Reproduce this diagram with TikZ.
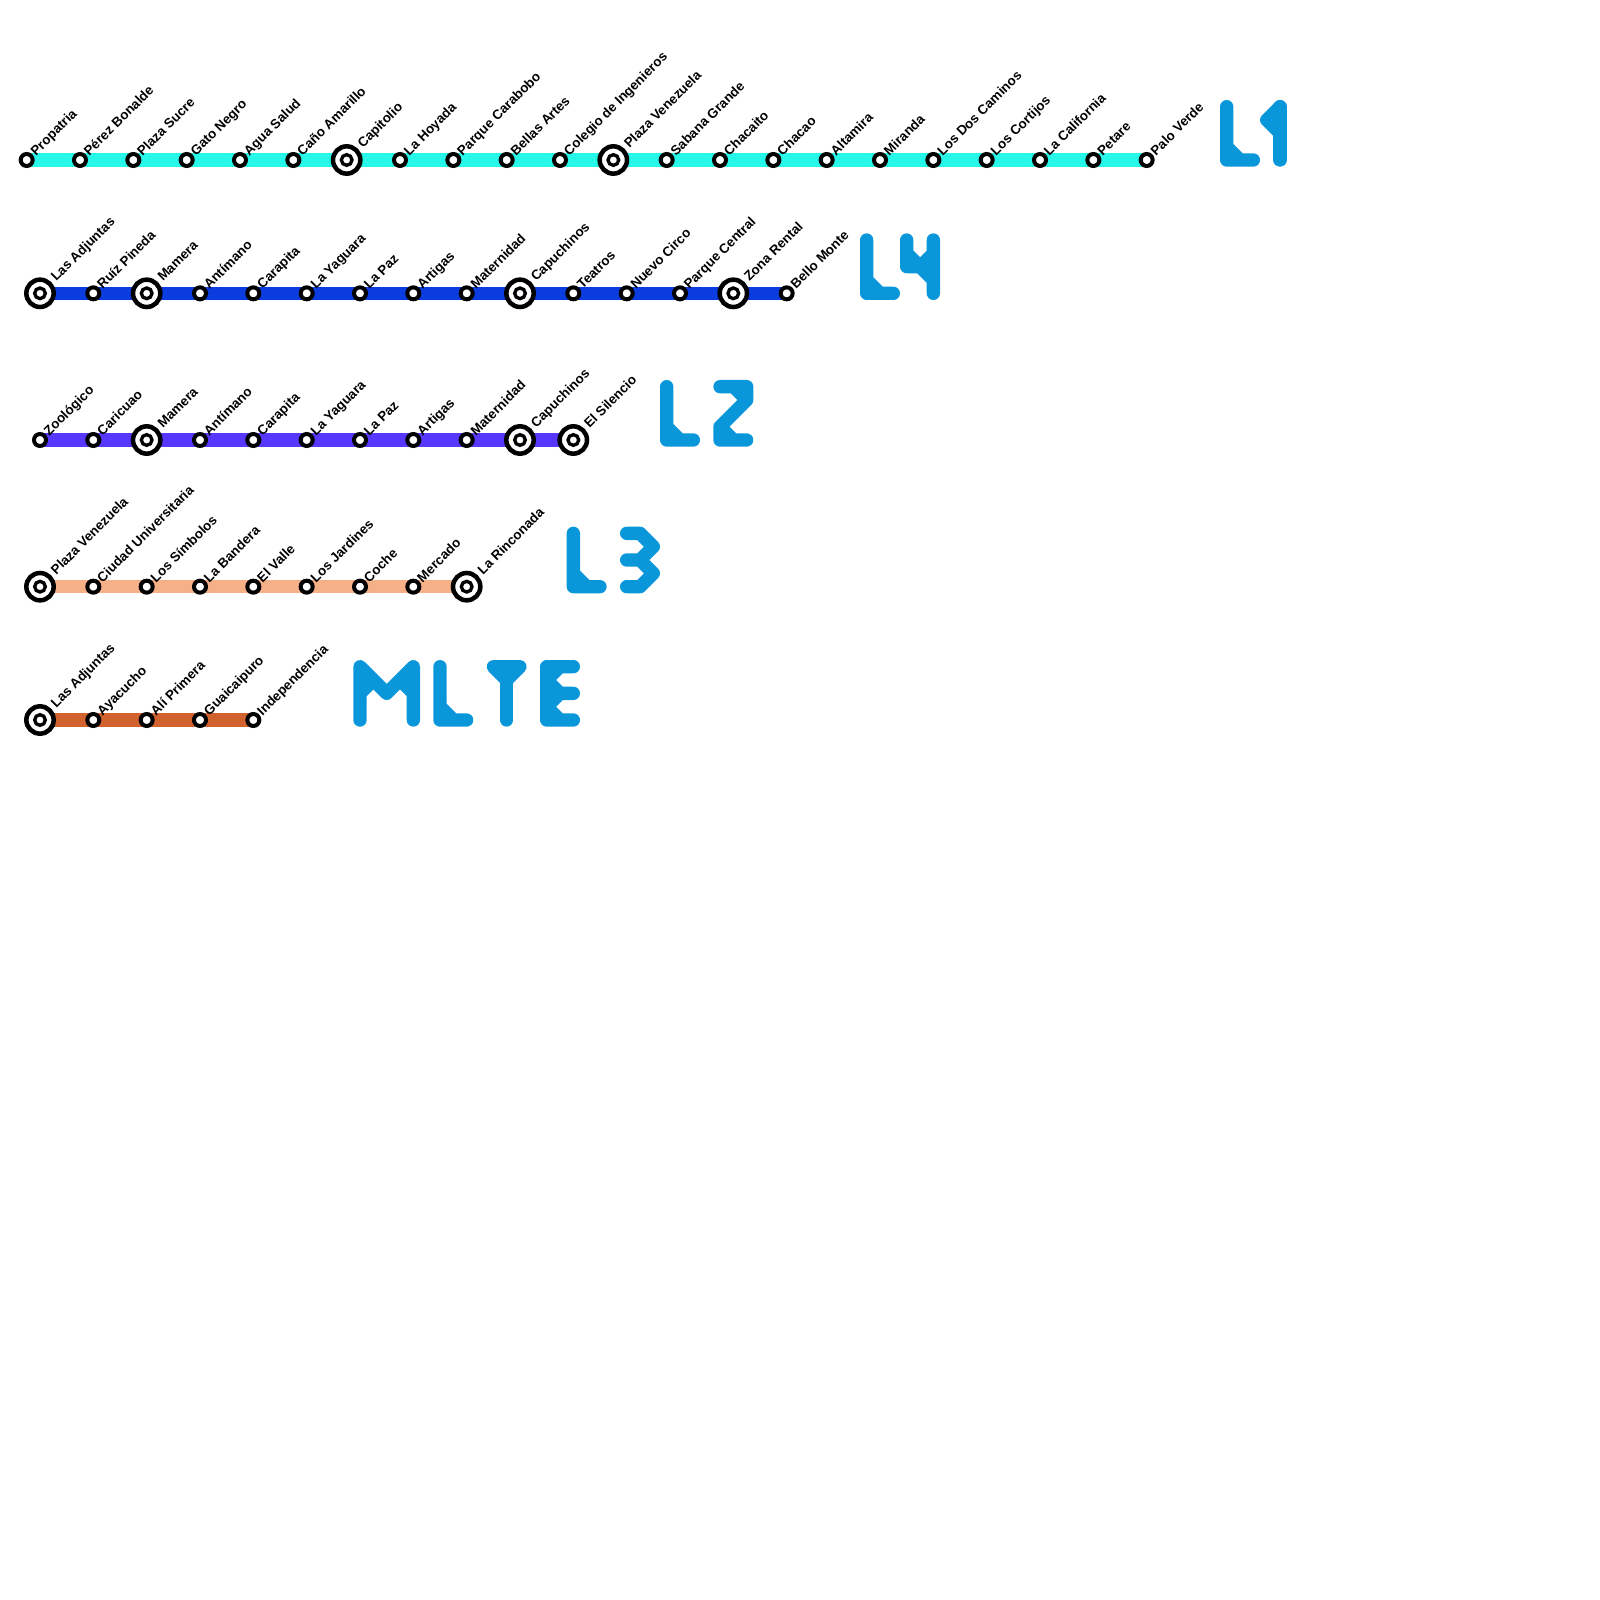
\documentclass[tikz,border=0pt]{standalone}
\usepackage{fontspec}
\setmainfont{Liberation Sans}
\usetikzlibrary{backgrounds}
\definecolor{lineone}{HTML}{26F7E8}
\definecolor{linefour}{HTML}{0A3CE0}
\definecolor{linetwo}{HTML}{5738FF}
\definecolor{linethree}{HTML}{F6B088}
\definecolor{linetele}{HTML}{D2622D}
\definecolor{glyphblue}{HTML}{0997D9}
\begin{document}
\begin{tikzpicture}[
    x=0.2cm, y=-0.2cm,
    stn/.style={circle, draw=black, fill=white, line width=0.06cm, inner sep=0pt, minimum size=0.18cm},
    xfer/.style={stn, line width=0.068cm, minimum size=0.41cm,
                 path picture={\draw[line width=0.05cm] (path picture bounding box.center) circle (0.08cm);}},
    lbl/.style={font=\fontsize{5.7pt}{6pt}\selectfont\bfseries, inner sep=0pt, anchor=base west},
    stnlbl/.style={lbl, shift={(0.68,-0.25)}, rotate=45},
    xferlbl/.style={lbl, shift={(1.2,-0.83)}, rotate=45},
    track/.style={line width=0.2cm},
    glyph/.style={draw=glyphblue, line width=0.2cm, line cap=round, line join=round},
    glyphfill/.style={glyph, fill=glyphblue},
]
\useasboundingbox (0,0) rectangle (120,120);
% === Line 1 ===
\foreach \k/\kind/\txt in {0/stn/Propatria, 1/stn/Pérez Bonalde, 2/stn/Plaza Sucre, 3/stn/Gato Negro, 4/stn/Agua Salud,
    5/stn/Caño Amarillo, 6/xfer/Capitolio, 7/stn/La Hoyada, 8/stn/Parque Carabobo, 9/stn/Bellas Artes,
    10/stn/Colegio de Ingenieros, 11/xfer/Plaza Venezuela, 12/stn/Sabana Grande, 13/stn/Chacaito, 14/stn/Chacao,
    15/stn/Altamira, 16/stn/Miranda, 17/stn/Los Dos Caminos, 18/stn/Los Cortijos, 19/stn/La California,
    20/stn/Petare, 21/stn/Palo Verde} {
  \node[\kind] (a\k) at (2+4*\k,12) {};
  \node[\kind lbl] (at\k) at (a\k.center) {\txt};
}
\begin{scope}[on background layer]
\draw[track, lineone] (a0.center) -- (a21.center);
\end{scope}
% === Line 4 ===
\foreach \k/\kind/\txt in {0/xfer/Las Adjuntas, 1/stn/Ruíz Pineda, 2/xfer/Mamera, 3/stn/Antímano, 4/stn/Carapita,
    5/stn/La Yaguara, 6/stn/La Paz, 7/stn/Artigas, 8/stn/Maternidad, 9/xfer/Capuchinos, 10/stn/Teatros,
    11/stn/Nuevo Circo, 12/stn/Parque Central, 13/xfer/Zona Rental, 14/stn/Bello Monte} {
  \node[\kind] (b\k) at (3+4*\k,22) {};
  \node[\kind lbl] (bt\k) at (b\k.center) {\txt};
}
\begin{scope}[on background layer]
\draw[track, linefour] (b0.center) -- (b14.center);
\end{scope}
% === Line 2 ===
\foreach \k/\kind/\txt in {0/stn/Zoológico, 1/stn/Caricuao, 2/xfer/Mamera, 3/stn/Antímano, 4/stn/Carapita,
    5/stn/La Yaguara, 6/stn/La Paz, 7/stn/Artigas, 8/stn/Maternidad, 9/xfer/Capuchinos, 10/xfer/El Silencio} {
  \node[\kind] (c\k) at (3+4*\k,33) {};
  \node[\kind lbl] (ct\k) at (c\k.center) {\txt};
}
\begin{scope}[on background layer]
\draw[track, linetwo] (c0.center) -- (c10.center);
\end{scope}
% === Line 3 ===
\foreach \k/\kind/\txt in {0/xfer/Plaza Venezuela, 1/stn/Ciudad Universitaria, 2/stn/Los Símbolos, 3/stn/La Bandera,
    4/stn/El Valle, 5/stn/Los Jardines, 6/stn/Coche, 7/stn/Mercado, 8/xfer/La Rinconada} {
  \node[\kind] (d\k) at (3+4*\k,44) {};
  \node[\kind lbl] (dt\k) at (d\k.center) {\txt};
}
\begin{scope}[on background layer]
\draw[track, linethree] (d0.center) -- (d8.center);
\end{scope}
% === Los Teques ===
\foreach \k/\kind/\txt in {0/xfer/Las Adjuntas, 1/stn/Ayacucho, 2/stn/Alí Primera, 3/stn/Guaicaipuro, 4/stn/Independencia} {
  \node[\kind] (e\k) at (3+4*\k,54) {};
  \node[\kind lbl] (et\k) at (e\k.center) {\txt};
}
\begin{scope}[on background layer]
\draw[track, linetele] (e0.center) -- (e4.center);
\end{scope}
% === Line names, drawn as thick strokes ===
\draw[glyph] (92,8) -- (92,12) -- (94,12) (92,11) -- (93,12);
\draw[glyph] (96,8) -- (96,12);
\draw[glyphfill] (96,8) -- (95,9) -- (96,10) -- cycle;
\draw[glyph] (65,18) -- (65,22) -- (67,22) (65,21) -- (66,22);
\draw[glyph] (68,18) -- (68,20) -- (69,20) -- (70,21) (68,19) -- (69,20) -- (70,19) (70,18) -- (70,22);
\draw[glyph] (50,29) -- (50,33) -- (52,33) (50,32) -- (51,33);
\draw[glyph] (54,29) -- (56,29) -- (56,30) -- (54,32) -- (54,33) -- (56,33) (55,29) -- (56,30) (54,32) -- (55,33);
\draw[glyph] (43,40) -- (43,44) -- (45,44) (43,43) -- (44,44);
\draw[glyph] (47,40) -- (48,40) -- (49,41) -- (48,42) -- (49,43) -- (48,44) -- (47,44) (47,42) -- (48,42);
\draw[glyph] (27,54) -- (27,50) -- (29,52) -- (31,50) -- (31,54) (27,52) -- (28,51) (31,52) -- (30,51);
\draw[glyph] (33,50) -- (33,54) -- (35,54) (33,53) -- (34,54);
\draw[glyphfill] (37,50) -- (39,50) -- (38,51) -- cycle;
\draw[glyph] (38,50) -- (38,54);
\draw[glyph] (43,50) -- (41,50) -- (41,54) -- (43,54) (41,52) -- (43,52) (41,51) -- (42,50) (41,51) -- (42,52)
    (41,53) -- (42,52) (41,53) -- (42,54);
\end{tikzpicture}
\end{document}
